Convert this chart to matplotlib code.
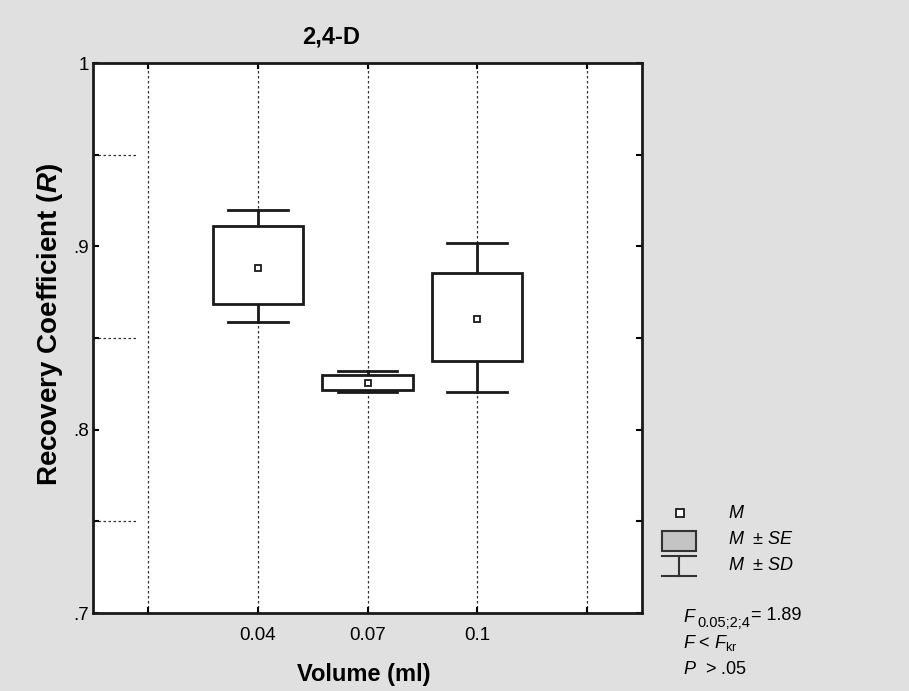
import matplotlib
matplotlib.use("Agg")
import matplotlib.pyplot as plt
from matplotlib.patches import Rectangle

plt.rcParams['font.family'] = ['Liberation Sans', 'DejaVu Sans']
plt.rcParams['mathtext.fontset'] = 'custom'
plt.rcParams['mathtext.rm'] = 'Liberation Sans'
plt.rcParams['mathtext.it'] = 'Liberation Sans:italic'
plt.rcParams['mathtext.bf'] = 'Liberation Sans:bold'
plt.rcParams['mathtext.bfit'] = 'Liberation Sans:italic:bold'

# data
volumes = ['0.04', '0.07', '0.1']
positions = [2, 3, 4]
means = [0.888, 0.8255, 0.8605]
se_lo = [0.8685, 0.8216, 0.8374]
se_hi = [0.911, 0.8298, 0.8854]
sd_lo = [0.859, 0.8205, 0.8205]
sd_hi = [0.920, 0.832, 0.9018]

bg = '#e0e0e0'
fig = plt.figure(figsize=(9.09, 6.91), dpi=100, facecolor=bg)
ax = fig.add_axes([93/909, 1-613/691, 549/909, 550/691])
ax.set_facecolor('white')

ax.set_xlim(0.5, 5.5)
ax.set_ylim(0.7, 1.0)

# vertical dotted grid
for x in [1, 2, 3, 4, 5]:
    ax.axvline(x, color='#333333', lw=0.9, ls=(0, (2, 2)), zorder=1)
# short dashed lines at minor y levels
for y in [0.75, 0.85, 0.95]:
    ax.axhline(y, xmin=0, xmax=45/549, color='#333333', lw=0.9, ls=(0, (2, 2)), zorder=1)

box_w = 0.82
cap_w = 0.545
for x, m, a, b, c, d in zip(positions, means, se_lo, se_hi, sd_lo, sd_hi):
    ax.plot([x, x], [b, d], color='#1a1a1a', lw=2, zorder=3)
    ax.plot([x, x], [c, a], color='#1a1a1a', lw=2, zorder=3)
    ax.plot([x - cap_w/2, x + cap_w/2], [d, d], color='#1a1a1a', lw=2, zorder=3)
    ax.plot([x - cap_w/2, x + cap_w/2], [c, c], color='#1a1a1a', lw=2, zorder=3)
    ax.add_patch(Rectangle((x - box_w/2, a), box_w, b - a, facecolor='white',
                           edgecolor='#1a1a1a', lw=2, zorder=4))
    ax.plot(x, m, marker='s', ms=5, mfc='white', mec='#1a1a1a', mew=1.3, zorder=5)

ax.set_xticks([1, 2, 3, 4, 5])
ax.set_xticklabels(['', volumes[0], volumes[1], volumes[2], ''], fontsize=13.5)
ax.set_yticks([0.7, 0.75, 0.8, 0.85, 0.9, 0.95, 1.0])
ax.set_yticklabels(['.7', '', '.8', '', '.9', '', '1'], fontsize=13.5)
ax.tick_params(direction='in', length=4, width=1.5, top=True, right=True)
ax.tick_params(axis='x', pad=10)
ax.tick_params(axis='y', pad=3)
for s in ax.spines.values():
    s.set_linewidth(2)
    s.set_color('#1a1a1a')

# titles and labels placed in pixel coordinates
lg = fig.add_axes([0, 0, 1, 1], facecolor='none')
lg.set_xlim(0, 909)
lg.set_ylim(691, 0)
lg.axis('off')
lg.text(331, 37, '2,4-D', fontsize=17, fontweight='bold', ha='center', va='center')
lg.text(364, 675, 'Volume (ml)', fontsize=17, fontweight='bold', ha='center', va='center')
lg.text(50, 325, r'Recovery Coefficient ($\mathbfit{R}$)', fontsize=20,
        fontweight='bold', ha='center', va='center', rotation=90)

# legend and stats
lg.plot(680, 513, marker='s', ms=6, mfc='white', mec='#1a1a1a', mew=1.3)
lg.add_patch(Rectangle((662, 531), 34, 20, facecolor='#c4c4c4', edgecolor='#333333', lw=1.5))
lg.plot([662, 696], [556, 556], color='#333333', lw=1.5)
lg.plot([679, 679], [556, 576], color='#333333', lw=1.5)
lg.plot([662, 696], [576, 576], color='#333333', lw=1.5)
lg.text(728, 513, r'$M$', fontsize=13, va='center')
lg.text(728, 540, r'$M$  ± $SE$', fontsize=13, va='center')
lg.text(728, 565, r'$M$  ± $SD$', fontsize=13, va='center')
lg.text(683, 617, 'F', fontsize=13, style='italic', va='center')
lg.text(697, 623, '0.05;2;4', fontsize=10.5, va='center')
lg.text(751, 615, '= 1.89', fontsize=13, va='center')
lg.text(683, 643, r'$F$ < $F_{\mathrm{kr}}$', fontsize=13, va='center')
lg.text(683, 669, r'$P$  > .05', fontsize=13, va='center')

fig.savefig('out.png', dpi=100, facecolor=bg)
